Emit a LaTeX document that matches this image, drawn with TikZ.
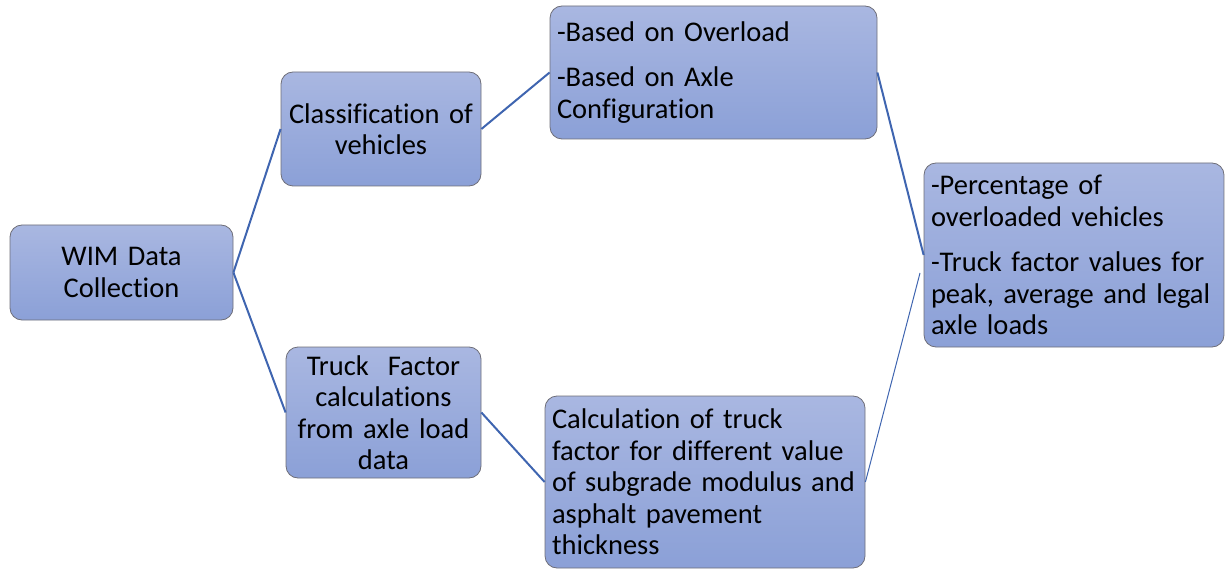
\documentclass[tikz,border=0pt]{standalone}
\usepackage{fontspec}
\setmainfont{Carlito}[Ligatures=NoCommon]
\definecolor{boxtop}{HTML}{A9B7E1}
\definecolor{boxbot}{HTML}{8BA0D7}
\definecolor{boxline}{HTML}{6E6E78}
\definecolor{conn}{HTML}{3F65B0}
\tikzset{
  box/.style={draw=boxline, line width=0.8pt, rounded corners=12pt,
    top color=boxtop, bottom color=boxbot, shading angle=0,
    inner xsep=7pt, inner ysep=0pt, text=black,
    font=\fontsize{28.5}{31.5}\selectfont},
  cbox/.style={box, align=center},
  lbox/.style={box, align=left},
  link/.style={draw=conn, line width=2pt},
  thinlink/.style={draw=conn, line width=1pt}
}
\begin{document}
\begin{tikzpicture}[x=1pt,y=-1pt]
\useasboundingbox (0,0) rectangle (1225,569);
\node[cbox, minimum width=223pt, minimum height=95pt, text width=209pt] (wim) at (121.5,272.5) {WIM Data\\Collection};
\node[cbox, minimum width=200pt, minimum height=114pt, text width=186pt] (cls) at (381,129) {Classification of\\vehicles};
\node[cbox, minimum width=195pt, minimum height=131pt, text width=181pt] (trk) at (383.5,412.5) {Truck\ \ Factor\\calculations\\from axle load\\data};
\node[lbox, minimum width=327pt, minimum height=133pt, text width=313pt] (ovl) at (713.5,72.5) {-Based on Overload\\[14pt]-Based on Axle\\Configuration};
\node[lbox, minimum width=300pt, minimum height=184pt, text width=286pt] (res) at (1074,255) {-Percentage of\\overloaded vehicles\\[14pt]-Truck factor values for\\peak, average and legal\\axle loads};
\node[lbox, minimum width=320pt, minimum height=172pt, text width=306pt] (clc) at (705,482) {Calculation of truck\\factor for different value\\of subgrade modulus and\\asphalt pavement\\thickness};
\coordinate (resin) at (920,273);
\draw[link] (wim.east) -- (cls.west);
\draw[link] (wim.east) -- (trk.west);
\draw[link] (cls.east) -- (ovl.west);
\draw[link] (ovl.east) -- (res.west);
\draw[link] (trk.east) -- (clc.west);
\draw[thinlink] (clc.east) -- (resin);
\end{tikzpicture}
\end{document}
